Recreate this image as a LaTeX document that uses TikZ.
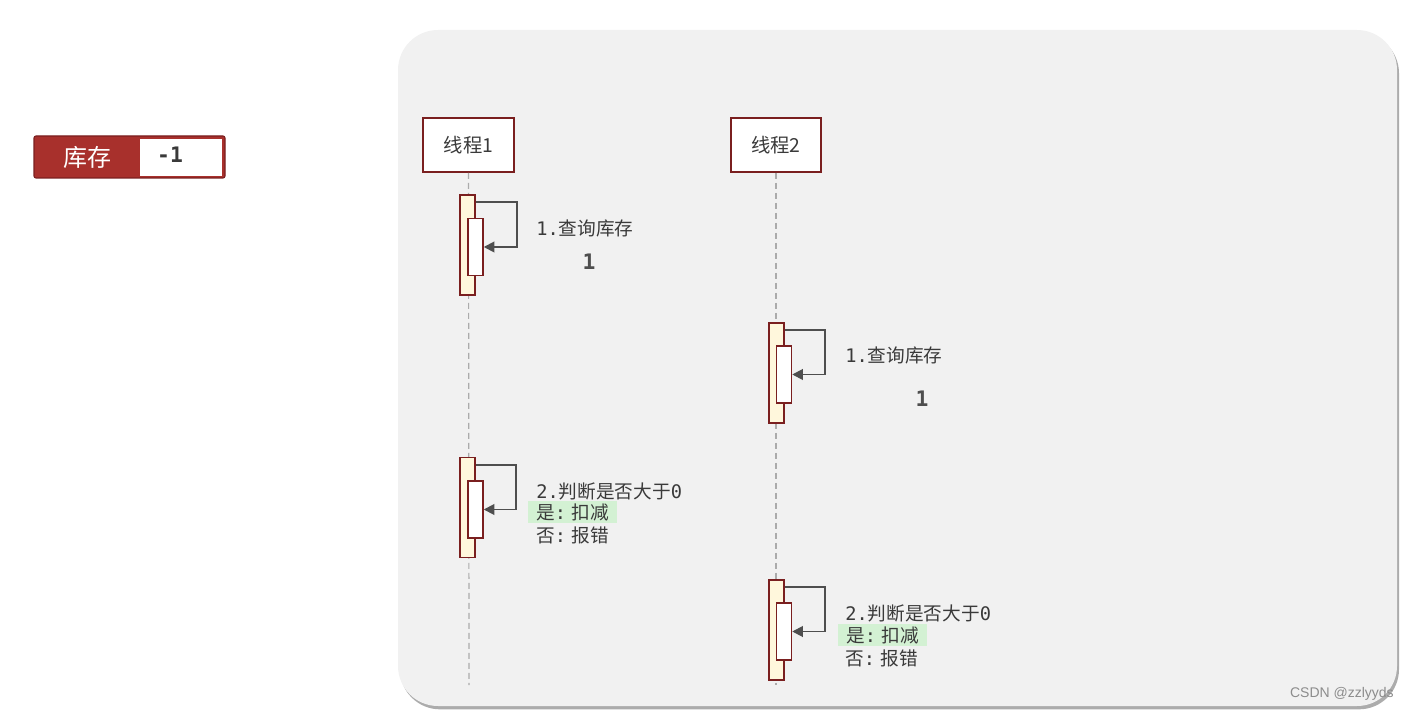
\documentclass[tikz,border=0pt]{standalone}
\usepackage{fontspec}
\setmainfont{Noto Sans CJK SC}
\newfontfamily\cjk{Noto Sans CJK SC}
\newfontfamily\monof{DejaVu Sans Mono}
\newfontfamily\wmfont{Liberation Sans}
\usetikzlibrary{arrows.meta,shadows}
\definecolor{panelbg}{HTML}{F1F1F1}
\definecolor{darkred}{HTML}{7A1F1F}
\definecolor{stockred}{HTML}{A8302C}
\definecolor{actfill}{HTML}{FFF7DC}
\definecolor{txt}{HTML}{3A3A3A}
\definecolor{hl}{HTML}{D3F1D3}
\definecolor{lifegray}{HTML}{ABABAB}
\tikzset{
  threadbox/.style={draw=darkred, line width=1.3pt, fill=white, minimum width=68pt, minimum height=40.5pt, inner sep=0pt, text=txt, font=\cjk\fontsize{14.5}{16}\selectfont},
  outerbar/.style={draw=darkred, line width=1.1pt, fill=actfill, minimum width=11.25pt, minimum height=75pt, inner sep=0pt},
  innerbar/.style={draw=darkred, line width=1.1pt, fill=white, minimum width=11.25pt, minimum height=42.75pt, inner sep=0pt},
  life/.style={draw=lifegray, line width=0.9pt, dash pattern=on 4.5pt off 3pt},
  msg/.style={draw=txt!90, line width=1.4pt, -{Triangle[length=8pt,width=8pt]}},
  lbl/.style={anchor=west, inner sep=0pt, text=txt, font=\cjk\fontsize{14}{16}\selectfont},
  hlbox/.style={anchor=west, fill=hl, inner xsep=6pt, inner ysep=2pt, text=txt, font=\cjk\fontsize{14}{16}\selectfont},
  bigone/.style={inner sep=0pt, text=txt!90, font=\monof\bfseries\fontsize{16}{18}\selectfont}
}
\begin{document}
\begin{tikzpicture}[x=0.75pt,y=-0.75pt]
\useasboundingbox (0,0) rectangle (1410,712);
% panel
\fill[panelbg, rounded corners=30pt, drop shadow={shadow xshift=1.5pt, shadow yshift=-2.5pt, opacity=0.5, fill=black!65}] (398,30) rectangle (1397,706);
% stock label
\node[draw=darkred, fill=stockred, rounded corners=1.5pt, line width=0.8pt, minimum width=143.25pt, minimum height=31.5pt, inner sep=0pt] (stock) at (129.5,157) {};
\node[fill=white, minimum width=61.5pt, minimum height=27.75pt, inner sep=0pt] (stockval) at (181,157.5) {};
\node[text=white, inner sep=0pt, font=\cjk\fontsize{18}{20}\selectfont] (stocktxt) at (87,157) {库存};
\node[text=txt, inner sep=0pt, font=\monof\bfseries\fontsize{16}{18}\selectfont] (stocknum) at (170,155) {-1};
% threads
\node[threadbox] (t1) at (468.5,145) {线程{\cjk 1}};
\node[threadbox] (t2) at (776,145) {线程{\cjk 2}};
\coordinate (e1) at (469,685);
\coordinate (e2) at (776,685);
\draw[life] (t1.south) -- (e1);
\draw[life] (t2.south) -- (e2);
% thread 1, step 1
\node[outerbar] (o11) at (467.5,245) {};
\node[innerbar] (i11) at (475.5,247) {};
\draw[msg] ([yshift=-6pt]o11.north east) -- ++(41,0) |- (i11.east);
\node[lbl] (l11) at (536,228) {{\monof 1.}查询库存};
\node[bigone] (v11) at (589,262) {1};
% thread 1, step 2
\node[outerbar] (o12) at (467.5,507.5) {};
\node[innerbar] (i12) at (475.5,509.5) {};
\draw[msg] ([yshift=-6pt]o12.north east) -- ++(40,0) |- (i12.east);
\node[lbl] (l12a) at (536,491) {{\monof 2.}判断是否大于{\monof 0}};
\node[hlbox] (l12b) at (528,512) {是{\monof:}\hspace{4pt}扣减};
\node[lbl] (l12c) at (536,535) {否{\monof:}\hspace{4pt}报错};
% thread 2, step 1
\node[outerbar] (o21) at (776.5,373) {};
\node[innerbar] (i21) at (784,374.5) {};
\draw[msg] ([yshift=-6pt]o21.north east) -- ++(40,0) |- (i21.east);
\node[lbl] (l21) at (845,355) {{\monof 1.}查询库存};
\node[bigone] (v21) at (922,399) {1};
% thread 2, step 2
\node[outerbar] (o22) at (776.5,630) {};
\node[innerbar] (i22) at (784,631.5) {};
\draw[msg] ([yshift=-6pt]o22.north east) -- ++(40,0) |- (i22.east);
\node[lbl] (l22a) at (845,613) {{\monof 2.}判断是否大于{\monof 0}};
\node[hlbox] (l22b) at (838,635) {是{\monof:}\hspace{4pt}扣减};
\node[lbl] (l22c) at (845,658) {否{\monof:}\hspace{4pt}报错};
% watermark
\node[anchor=east, inner sep=0pt, text=black!45, font=\wmfont\fontsize{10.5}{12}\selectfont] (wm) at (1394,694) {CSDN @zzlyyds};
\end{tikzpicture}
\end{document}
